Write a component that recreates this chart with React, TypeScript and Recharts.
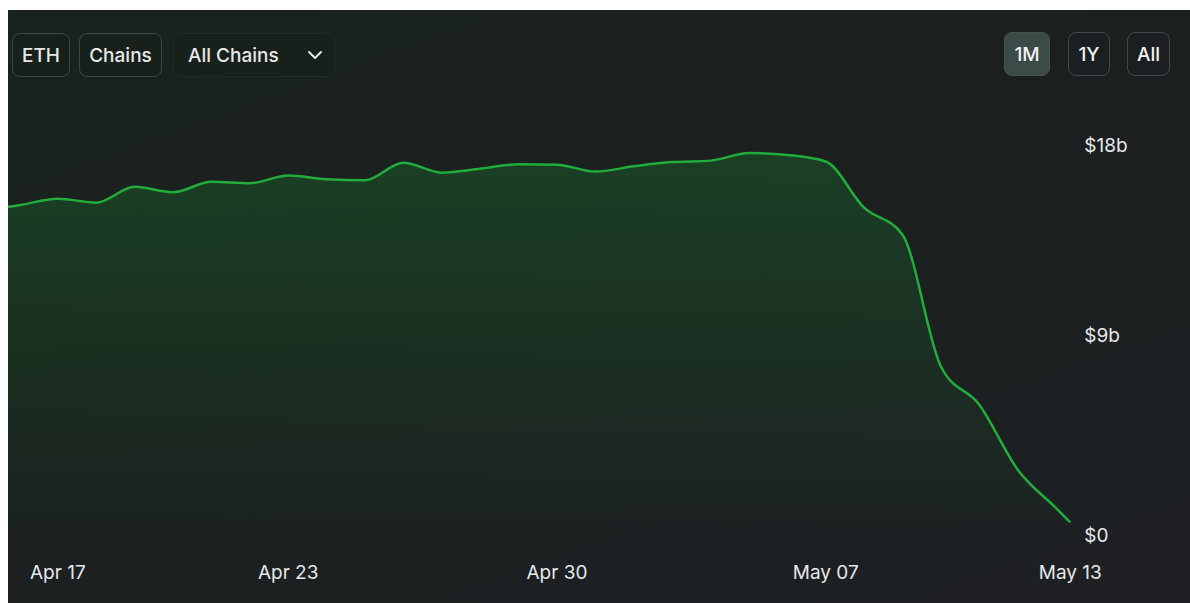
import React from 'react';
import { AreaChart, Area, XAxis, YAxis } from 'recharts';

// Day offsets relative to Apr 17 (last point is a partial day on May 13)
const dayOffsets = [-2, -1, 0, 1, 2, 3, 4, 5, 6, 7, 8, 9, 10, 11, 12, 13, 14, 15, 16, 17, 18, 19, 20, 21, 22, 23, 24, 25, 26, 26.37];
// Value in billions of USD
const tvlBillions = [14.9, 15.16, 15.47, 15.28, 16.03, 15.77, 16.27, 16.2, 16.56, 16.39, 16.34, 17.17, 16.7, 16.89, 17.1, 17.08, 16.75, 17.0, 17.2, 17.27, 17.63, 17.54, 17.23, 15.04, 13.76, 7.52, 5.71, 2.63, 0.81, 0.13];

const xTickValues = [0, 6, 13, 20, 26.37];
const xTickLabels = ['Apr 17', 'Apr 23', 'Apr 30', 'May 07', 'May 13'];
const yTickValues = [0, 9, 18];
const yTickLabels = ['$0', '$9b', '$18b'];

const assetButtons = ['ETH', 'Chains'];
const chainSelect = 'All Chains';
const rangeButtons = ['1M', '1Y', 'All'];
const activeRange = '1M';

const data = dayOffsets.map((d, i) => ({ day: d, tvl: tvlBillions[i] }));

const FONT = 'Inter, "Noto Sans", sans-serif';
const TEXT = '#e6e8e8';
const FS = 19;

const XTick = (props: any) => {
  const { x, y, payload } = props;
  const idx = xTickValues.indexOf(payload.value);
  return (
    <text x={x} y={y} dy={46} textAnchor="middle" fill={TEXT} fontFamily={FONT} fontSize={FS}>
      {idx >= 0 ? xTickLabels[idx] : ''}
    </text>
  );
};

const YTick = (props: any) => {
  const { x, y, payload } = props;
  const idx = yTickValues.indexOf(payload.value);
  return (
    <text x={x + 6} y={y + (payload.value === 0 ? 10 : 0)} dy="0.35em" textAnchor="start" fill={TEXT} fontFamily={FONT} fontSize={FS}>
      {idx >= 0 ? yTickLabels[idx] : ''}
    </text>
  );
};

const btnBase: React.CSSProperties = {
  position: 'absolute',
  top: 23,
  height: 44,
  boxSizing: 'border-box',
  borderRadius: 8,
  display: 'flex',
  alignItems: 'center',
  justifyContent: 'center',
  fontFamily: FONT,
  fontSize: FS,
  fontWeight: 500,
  color: TEXT,
};

export default function App() {
  const assetLefts = [4, 71];
  const assetWidths = [58, 83];
  const rangeLefts = [996, 1060, 1119];
  const rangeWidths = [46, 42, 43];
  return (
    <div style={{ position: 'relative', width: 1190, height: 603, background: '#ffffff', overflow: 'hidden' }}>
      <style>{'body{margin:0;}'}</style>
      <div
        style={{
          position: 'absolute',
          left: 8,
          top: 10,
          width: 1182,
          height: 593,
          overflow: 'hidden',
          background: 'linear-gradient(160deg, #19221d 0%, #1b201f 45%, #1e2024 100%)',
        }}
      >
        {assetButtons.map((b, i) => (
          <div
            key={b}
            style={{
              ...btnBase,
              left: assetLefts[i],
              width: assetWidths[i],
              border: '1.5px solid #3a4840',
              background: '#18201c',
            }}
          >
            {b}
          </div>
        ))}
        <div
          style={{
            ...btnBase,
            left: 165,
            width: 162,
            justifyContent: 'flex-start',
            paddingLeft: 14,
            border: '1px solid #202a25',
            background: '#18201c',
          }}
        >
          {chainSelect}
          <svg width="16" height="10" viewBox="0 0 16 10" style={{ position: 'absolute', left: 133, top: 16 }}>
            <polyline points="2,2 8,8 14,2" fill="none" stroke={TEXT} strokeWidth="2" strokeLinecap="round" strokeLinejoin="round" />
          </svg>
        </div>
        {rangeButtons.map((b, i) => (
          <div
            key={b}
            style={{
              ...btnBase,
              top: 22,
              left: rangeLefts[i],
              width: rangeWidths[i],
              border: b === activeRange ? '1.5px solid #45534f' : '1.5px solid #44474a',
              background: b === activeRange ? '#3b4b48' : '#1c1f22',
              color: '#f2f2f2',
            }}
          >
            {b}
          </div>
        ))}
        <div style={{ position: 'absolute', left: -27.3, top: 83.3 }}>
          <AreaChart
            width={1209.3}
            height={492.2}
            data={data}
            margin={{ top: 10, right: 0, left: 0, bottom: 0 }}
          >
            <defs>
              <linearGradient id="tvlFill" x1="0" y1="0" x2="0" y2="1">
                <stop offset="0%" stopColor="#198a30" stopOpacity={0.5} />
                <stop offset="50%" stopColor="#198a30" stopOpacity={0.25} />
                <stop offset="100%" stopColor="#198a30" stopOpacity={0.04} />
              </linearGradient>
            </defs>
            <XAxis
              dataKey="day"
              type="number"
              domain={['dataMin', 'dataMax']}
              ticks={xTickValues}
              interval={0}
              height={60}
              axisLine={false}
              tickLine={false}
              tick={(p: any) => <XTick {...p} />}
            />
            <YAxis
              orientation="right"
              domain={[0, 20]}
              ticks={yTickValues}
              width={120}
              axisLine={false}
              tickLine={false}
              tick={(p: any) => <YTick {...p} />}
            />
            <Area
              type="monotone"
              dataKey="tvl"
              stroke="#22ac3c"
              strokeWidth={2.5}
              fill="url(#tvlFill)"
              isAnimationActive={false}
              dot={false}
              activeDot={false}
            />
          </AreaChart>
        </div>
      </div>
    </div>
  );
}
